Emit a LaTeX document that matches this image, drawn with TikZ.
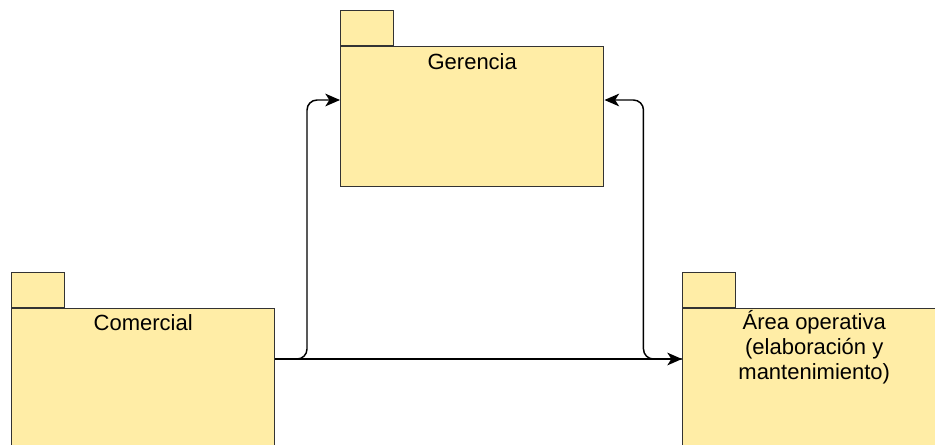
\documentclass[tikz,border=0pt]{standalone}
\usepackage{fontspec}
\setmainfont{Liberation Sans}
\usetikzlibrary{positioning,calc,arrows.meta}
\definecolor{pkgfill}{RGB}{255,237,166}
\tikzset{pkgbody/.style={draw=black!80, fill=pkgfill, line width=1.1pt, minimum width=197.25pt,
		minimum height=105pt, inner sep=0pt, anchor=north west}}
\tikzset{pkgtab/.style={draw=black!80, fill=pkgfill, line width=1.1pt, minimum width=39.75pt,
		minimum height=26pt, inner sep=0pt, anchor=south west}}
\tikzset{pkglabel/.style={font=\fontsize{16.5}{18.4}\selectfont, align=center, inner sep=0pt, anchor=base}}
\tikzset{flow/.style={-{Stealth[length=11pt,width=9.5pt,inset=3pt]}, line width=1.1pt, rounded corners=7.5pt}}

\begin{document}
\begin{tikzpicture}[x=0.75pt, y=-0.75pt]
	\useasboundingbox (0,0) rectangle (935,444);
	\clip (0,0) rectangle (935,444);
	% packages
	\node[pkgtab] (ger-tab) at (340,46) {};
	\node[pkgbody] (ger) at (340,46) {};
	\node[pkglabel] (ger-lbl) at ($(ger.north)+(0,23)$) {Gerencia};
	
	\node[pkgtab] (com-tab) at (11,308) {};
	\node[pkgbody, minimum height=150pt] (com) at (11,308) {};
	\node[pkglabel] (com-lbl) at ($(com.north)+(0,22)$) {Comercial};
	
	\node[pkgtab] (area-tab) at (682,308) {};
	\node[pkgbody, minimum height=150pt] (area) at (682,308) {};
	% base of a multi-line node is its last line
	\node[pkglabel] (area-lbl) at ($(area.north)+(0,71)$) {Área operativa\\(elaboración y\\mantenimiento)};
	
	% connectors
	\coordinate (com-out) at ($(com.north east)+(0,51)$);
	\coordinate (area-in) at ($(area.north west)+(0,51)$);
	\coordinate (ger-in-l) at ($(ger.north west)+(0,54)$);
	\coordinate (ger-in-r) at ($(ger.north east)+(0,54)$);
	\draw[flow] (com-out) -- (area-in);
	\draw[flow] (com-out) -| ($(ger-in-l)+(-33,0)$) -- (ger-in-l);
	\draw[flow] (area-in) -| ($(ger-in-r)+(39,0)$) -- (ger-in-r);
\end{tikzpicture}
\end{document}
